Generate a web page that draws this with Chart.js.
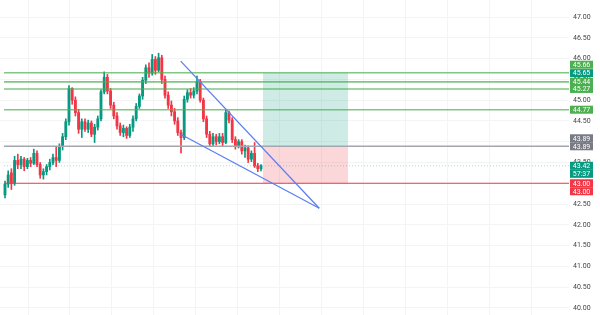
<!DOCTYPE html>
<html>
<head>
<meta charset="utf-8">
<script src="https://cdn.jsdelivr.net/npm/chart.js@4.4.1/dist/chart.umd.min.js"></script>
<style>
  html, body { margin: 0; padding: 0; background: #fff; }
  #wrap { width: 600px; height: 315px; }
</style>
</head>
<body>
<div id="wrap"><canvas id="chart"></canvas></div>
<script>
// candles, oldest first (read off the picture, so only roughly right)
const opens  = [42.72,42.98,43.25,43.00,43.55,43.45,43.58,43.40,43.55,43.48,
                43.72,43.45,43.20,43.28,43.40,43.50,43.62,43.55,43.88,44.12,
                44.48,45.28,45.00,44.70,44.30,44.48,44.30,44.45,44.18,44.35,
                44.55,45.20,45.55,45.22,44.88,44.62,44.38,44.22,44.32,44.15,
                44.35,44.55,44.85,45.10,45.48,45.78,45.65,45.98,45.72,46.02,
                45.50,45.12,44.88,44.72,44.50,44.22,44.10,45.02,45.18,45.12,
                45.22,45.45,45.00,44.55,44.18,43.95,44.12,44.00,44.12,43.98,
                44.70,44.52,44.05,43.90,44.00,43.78,43.85,43.58,43.72,43.42,
                43.35];
const highs  = [43.05,43.30,43.35,43.65,43.70,43.65,43.62,43.60,43.62,43.82,
                43.78,43.50,43.35,43.45,43.58,43.70,43.87,43.95,44.20,44.55,
                45.35,45.30,45.08,44.78,44.55,44.55,44.52,44.50,44.42,44.62,
                45.25,45.68,45.62,45.28,44.95,44.70,44.45,44.40,44.36,44.42,
                44.62,44.92,45.15,45.55,45.85,45.90,46.10,46.05,46.13,46.08,
                45.58,45.20,44.98,44.80,44.58,44.28,45.10,45.25,45.28,45.30,
                45.58,45.50,45.05,44.62,44.25,44.20,44.18,44.20,44.20,44.76,
                44.74,44.58,44.12,44.05,44.05,43.92,43.90,43.78,43.98,43.48,
                43.45];
const lows   = [42.65,42.90,42.85,42.95,43.35,43.35,43.30,43.35,43.40,43.45,
                43.40,43.12,43.10,43.20,43.32,43.45,43.40,43.50,43.80,44.05,
                44.40,44.90,44.62,44.20,44.10,44.25,44.22,44.12,43.98,44.28,
                44.50,45.15,45.15,44.80,44.55,44.30,44.15,44.12,44.08,44.10,
                44.25,44.50,44.80,45.02,45.40,45.55,45.60,45.62,45.68,45.40,
                45.05,44.80,44.62,44.42,44.15,43.73,44.05,44.95,45.05,45.05,
                45.15,44.95,44.48,44.10,43.88,43.90,43.92,43.95,43.88,43.95,
                44.45,43.98,43.82,43.85,43.70,43.62,43.50,43.52,43.38,43.28,
                43.30];
const closes = [42.98,43.20,43.00,43.55,43.45,43.58,43.40,43.55,43.48,43.72,
                43.45,43.20,43.28,43.40,43.50,43.62,43.55,43.88,44.12,44.48,
                45.28,45.00,44.70,44.30,44.48,44.30,44.45,44.18,44.35,44.55,
                45.20,45.55,45.22,44.88,44.62,44.38,44.22,44.32,44.15,44.35,
                44.55,44.85,45.10,45.48,45.78,45.65,45.98,45.72,46.02,45.50,
                45.12,44.88,44.72,44.50,44.22,44.10,45.02,45.18,45.12,45.22,
                45.45,45.00,44.55,44.18,43.95,44.12,44.00,44.12,43.98,44.70,
                44.52,44.05,43.90,44.00,43.78,43.85,43.58,43.72,43.42,43.35,
                43.42];

// horizontal levels
const greenLevels = [45.66, 45.44, 45.27, 44.77];
const entryLevel = 43.89;
const stopLevel = 43.00;
const targetLevel = 45.66;
const lastPrice = 43.42;

// falling wedge (bar index, price)
const wedgeTop = [{x: 54.9, y: 45.94}, {x: 98.2, y: 42.40}];
const wedgeBottom = [{x: 54.9, y: 44.18}, {x: 98.2, y: 42.40}];

// long position box, from bar to bar
const boxFrom = 80.6;
const boxTo = 107.2;

// price tags on the right scale
const tagValues = [45.66, 45.65, 45.44, 45.27, 44.77, 43.89, 43.89, 43.42, 43.42, 43.00, 43.00];
const tagTexts  = ['45.66', '45.65', '45.44', '45.27', '44.77', '43.89', '43.89', '43.42', '57:37', '43.00', '43.00'];

// ---- styles / layout ----
const UP = '#089981';
const DOWN = '#f23645';
const GREEN_LINE = 'rgba(76,175,80,0.7)';
const WEDGE = '#5b7ff2';
const X_MIN = -1.56, X_MAX = 176.25;
const Y_MIN = 39.83, Y_MAX = 47.41;
const tagColors = ['#4caf50', UP, '#4caf50', '#4caf50', '#4caf50', '#787b86', '#787b86', UP, UP, DOWN, DOWN];
const tagRows = [-1, 0, 0, 0, 0, -1, 0, 0, 1, 0, 1];

const candleColors = closes.map((c, i) => c >= opens[i] ? UP : DOWN);

function hLine(y, color, width, dash) {
  return {
    type: 'line',
    data: [{x: -0.3, y: y}, {x: X_MAX, y: y}],
    borderColor: color,
    borderWidth: width,
    borderDash: dash || [],
    pointRadius: 0,
    fill: false,
    order: 1
  };
}

const datasets = [
  // position box: profit area then loss area
  {
    type: 'line',
    data: [{x: boxFrom, y: targetLevel}, {x: boxTo, y: targetLevel}],
    borderWidth: 0,
    pointRadius: 0,
    fill: {value: entryLevel},
    backgroundColor: 'rgba(8,153,129,0.2)',
    order: 5
  },
  {
    type: 'line',
    data: [{x: boxFrom, y: entryLevel}, {x: boxTo, y: entryLevel}],
    borderWidth: 0,
    pointRadius: 0,
    fill: {value: stopLevel},
    backgroundColor: 'rgba(242,54,69,0.2)',
    order: 5
  },
  // wicks
  {
    type: 'bar',
    data: lows.map((l, i) => ({x: i, y: [l, highs[i]]})),
    backgroundColor: candleColors,
    barThickness: 1,
    grouped: false,
    order: 3
  },
  // bodies
  {
    type: 'bar',
    data: opens.map((o, i) => ({x: i, y: [o, closes[i]]})),
    backgroundColor: candleColors,
    barThickness: 2.2,
    grouped: false,
    order: 2
  },
  hLine(lastPrice, 'rgba(8,153,129,0.35)', 1, [1, 2]),
  ...greenLevels.map(v => hLine(v, GREEN_LINE, 1.6)),
  hLine(entryLevel, '#a3a6af', 1.5),
  hLine(stopLevel, DOWN, 1),
  {
    type: 'line', data: wedgeTop, borderColor: WEDGE, borderWidth: 1.3,
    pointRadius: 0, fill: false, order: 0
  },
  {
    type: 'line', data: wedgeBottom, borderColor: WEDGE, borderWidth: 1.3,
    pointRadius: 0, fill: false, order: 0
  }
];

// draws the coloured price tags over the right scale
const priceTags = {
  id: 'priceTags',
  afterDraw(chart) {
    const ctx = chart.ctx;
    const y = chart.scales.y;
    const left = chart.chartArea.right + 1;
    const w = 23, h = 8;
    ctx.save();
    ctx.font = '7px Roboto, sans-serif';
    ctx.textAlign = 'center';
    ctx.textBaseline = 'middle';
    tagValues.forEach((v, i) => {
      const cy = y.getPixelForValue(v) + tagRows[i] * h;
      ctx.fillStyle = tagColors[i];
      ctx.fillRect(left, cy - h / 2, w, h);
      ctx.fillStyle = '#fff';
      ctx.fillText(tagTexts[i], left + w / 2, cy + 0.5);
    });
    ctx.restore();
  }
};

new Chart(document.getElementById('chart'), {
  type: 'bar',
  data: {datasets: datasets},
  plugins: [priceTags],
  options: {
    responsive: true,
    maintainAspectRatio: false,
    animation: false,
    layout: {padding: 0},
    plugins: {legend: {display: false}, tooltip: {enabled: false}},
    scales: {
      x: {
        type: 'linear',
        offset: false,
        min: X_MIN,
        max: X_MAX,
        grid: {color: '#f3f4f6', drawTicks: false, offset: false},
        border: {display: false},
        ticks: {display: false},
        afterBuildTicks(scale) {
          const t = [];
          for (let v = 7.2; v < X_MAX; v += 13.1) t.push({value: v});
          scale.ticks = t;
        },
        afterFit(scale) { scale.height = 0; }
      },
      y: {
        position: 'right',
        min: Y_MIN,
        max: Y_MAX,
        grid: {color: '#f3f4f6', drawTicks: false},
        border: {display: false},
        ticks: {
          stepSize: 0.5,
          includeBounds: false,
          padding: 4,
          color: '#444',
          font: {family: 'Roboto', size: 7},
          callback: v => v.toFixed(2)
        },
        afterFit(scale) {
          scale.width = 31;
          scale.paddingTop = 0;
          scale.paddingBottom = 0;
        }
      }
    }
  }
});
</script>
</body>
</html>
